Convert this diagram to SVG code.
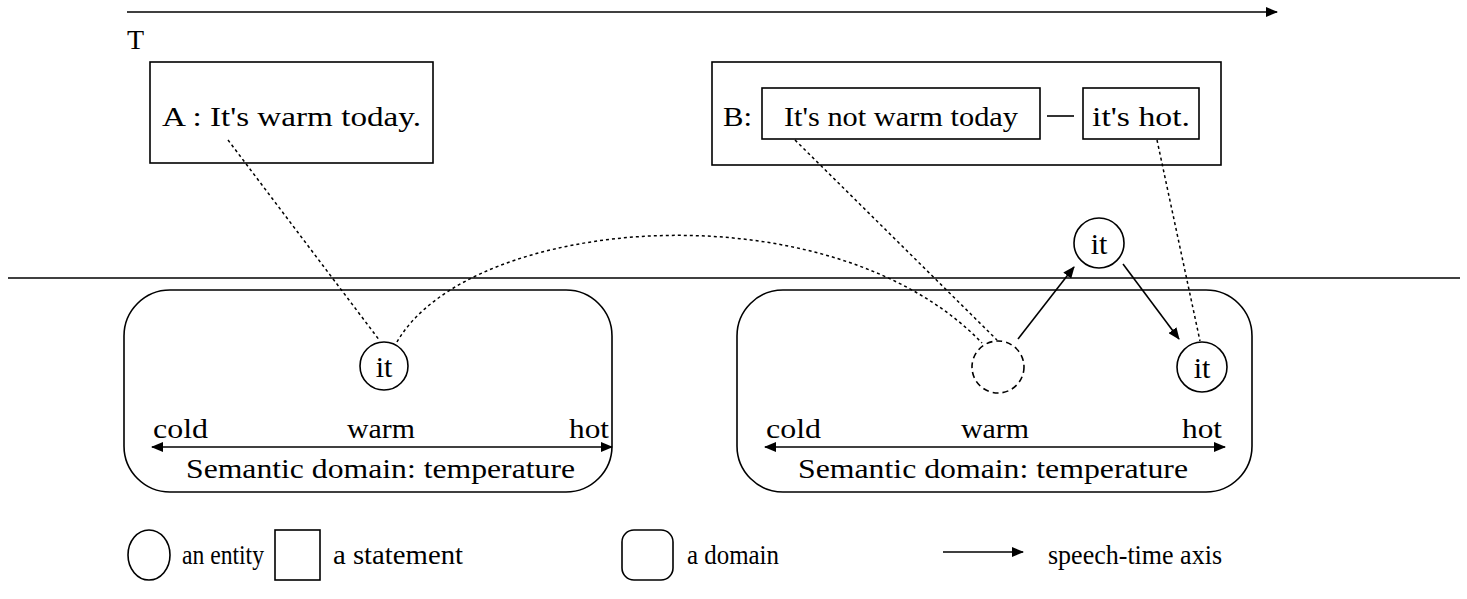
<svg xmlns="http://www.w3.org/2000/svg" width="1467" height="599" viewBox="0 0 1467 599">
<style>
text{font-family:"Liberation Serif","DejaVu Serif",serif;fill:#000;font-size:28px}
.it{font-size:30px;text-anchor:middle}
.box{fill:none;stroke:#000;stroke-width:1.6}
.ent{fill:#fff;stroke:#000;stroke-width:1.6}
.dot{fill:none;stroke:#000;stroke-width:1.5;stroke-dasharray:3 3}
.ln{fill:none;stroke:#000;stroke-width:1.6}
</style>
<defs>
<marker id="ah" viewBox="0 0 12 10" refX="11" refY="5" markerWidth="12" markerHeight="10" markerUnits="userSpaceOnUse" orient="auto-start-reverse">
<path d="M0,0 L12,5 L0,10 Z" fill="#000"/>
</marker>
</defs>
<g id="axis">
<line class="ln" x1="127" y1="12" x2="1277" y2="12" marker-end="url(#ah)"/>
<text x="127" y="49">T</text>
<line class="ln" x1="8" y1="278" x2="1460" y2="278" stroke-width="1.4"/>
</g>
<g id="stmtA">
<rect class="box" x="150" y="62" width="283" height="101"/>
<text x="162" y="126" textLength="259" lengthAdjust="spacingAndGlyphs">A : It's warm today.</text>
</g>
<g id="stmtB">
<rect class="box" x="712" y="62" width="509" height="103"/>
<text x="723" y="126" textLength="29" lengthAdjust="spacingAndGlyphs">B:</text>
<rect class="box" x="762" y="88" width="278" height="51"/>
<text x="784" y="126" textLength="234" lengthAdjust="spacingAndGlyphs">It's not warm today</text>
<line class="ln" x1="1047" y1="116" x2="1074" y2="116"/>
<rect class="box" x="1083" y="88" width="116" height="51"/>
<text x="1092" y="126" textLength="98" lengthAdjust="spacingAndGlyphs">it's hot.</text>
</g>
<g id="domainL">
<rect class="box" x="124" y="290" width="488" height="202" rx="46" ry="46"/>
<text x="153" y="438" textLength="55" lengthAdjust="spacingAndGlyphs">cold</text>
<text x="347" y="438" textLength="68" lengthAdjust="spacingAndGlyphs">warm</text>
<text x="569" y="438" textLength="40" lengthAdjust="spacingAndGlyphs">hot</text>
<line class="ln" x1="152" y1="447" x2="612" y2="447" marker-start="url(#ah)" marker-end="url(#ah)"/>
<text x="186" y="478" textLength="389" lengthAdjust="spacingAndGlyphs">Semantic domain: temperature</text>
</g>
<g id="domainR">
<rect class="box" x="737" y="290" width="515" height="202" rx="46" ry="46"/>
<text x="766" y="438" textLength="55" lengthAdjust="spacingAndGlyphs">cold</text>
<text x="961" y="438" textLength="68" lengthAdjust="spacingAndGlyphs">warm</text>
<text x="1182" y="438" textLength="40" lengthAdjust="spacingAndGlyphs">hot</text>
<line class="ln" x1="765" y1="447" x2="1225" y2="447" marker-start="url(#ah)" marker-end="url(#ah)"/>
<text x="798" y="478" textLength="390" lengthAdjust="spacingAndGlyphs">Semantic domain: temperature</text>
</g>
<g id="itL">
<circle class="ent" cx="384" cy="366" r="24"/>
<text class="it" x="384" y="377">it</text>
</g>
<g id="itGap">
<circle cx="998" cy="367" r="26" fill="none" stroke="#000" stroke-width="1.6" stroke-dasharray="6 4"/>
</g>
<g id="itTop">
<circle class="ent" cx="1099" cy="243" r="25"/>
<text class="it" x="1099" y="254">it</text>
</g>
<g id="itR">
<circle class="ent" cx="1202" cy="367" r="25"/>
<text class="it" x="1202" y="378">it</text>
</g>
<g id="connectors">
<line class="dot" x1="228" y1="140" x2="380" y2="341"/>
<path class="dot" d="M397,342 C470,215 830,185 982,343"/>
<line class="dot" x1="795" y1="140" x2="997" y2="340"/>
<line class="dot" x1="1157" y1="140" x2="1200" y2="341"/>
<line class="ln" x1="1018" y1="339" x2="1074" y2="267" marker-end="url(#ah)"/>
<line class="ln" x1="1123" y1="264" x2="1179" y2="339" marker-end="url(#ah)"/>
</g>
<g id="legend">
<ellipse class="ent" cx="149" cy="555" rx="21" ry="25"/>
<text x="182" y="564" textLength="82" lengthAdjust="spacingAndGlyphs">an entity</text>
<rect class="box" x="275" y="530" width="45" height="50"/>
<text x="333" y="564" textLength="130" lengthAdjust="spacingAndGlyphs">a statement</text>
<rect class="box" x="622" y="530" width="51" height="50" rx="12" ry="12"/>
<text x="687" y="564" textLength="92" lengthAdjust="spacingAndGlyphs">a domain</text>
<line class="ln" x1="943" y1="552" x2="1023" y2="552" marker-end="url(#ah)"/>
<text x="1048" y="564" textLength="174" lengthAdjust="spacingAndGlyphs">speech-time axis</text>
</g>
</svg>
